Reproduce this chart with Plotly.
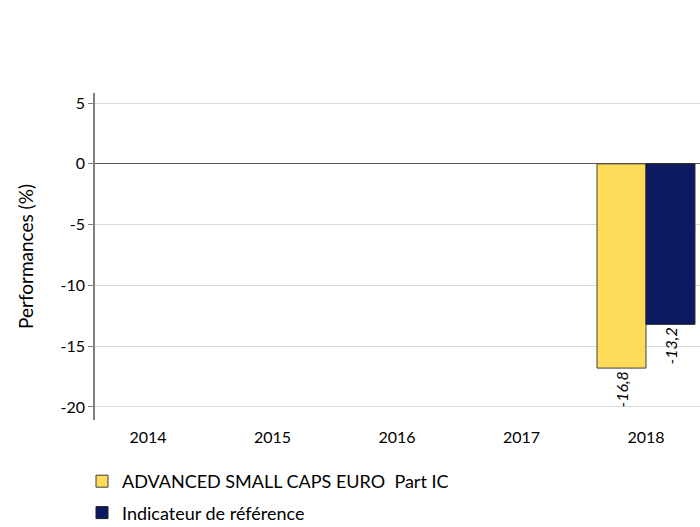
import plotly.graph_objects as go

years = ["2014", "2015", "2016", "2017", "2018"]
fund_name = "ADVANCED SMALL CAPS EURO  Part IC"
bench_name = "Indicateur de référence"
fund_values = [None, None, None, None, -16.8]
bench_values = [None, None, None, None, -13.2]
y_ticks = [5, 0, -5, -10, -15, -20]

FONT = "Lato"

fig = go.Figure()
fig.add_trace(go.Bar(
    x=years, y=fund_values, name=fund_name,
    marker=dict(color="#FFDB5C", line=dict(color="#404040", width=1)),
    texttemplate="%{y:.1f}", textposition="outside", textangle=-90,
    textfont=dict(family=FONT, size=16, color="#000000", style="italic"),
    cliponaxis=False, legendgroup="a", constraintext="none",
))
fig.add_trace(go.Bar(
    x=years, y=bench_values, name=bench_name,
    marker=dict(color="#0C1A63", line=dict(color="#202020", width=1)),
    texttemplate="%{y:.1f}", textposition="outside", textangle=-90,
    textfont=dict(family=FONT, size=16, color="#000000", style="italic"),
    cliponaxis=False, legendgroup="b", constraintext="none",
))

fig.update_layout(
    width=700, height=527,
    margin=dict(l=95, r=0, t=93, b=107, autoexpand=False),
    paper_bgcolor="white", plot_bgcolor="white",
    separators=", ",
    barmode="group", bargap=0.213, bargroupgap=0,
    font=dict(family=FONT, size=16, color="#000000"),
    showlegend=True,
    legend=dict(
        x=(82 - 95) / 605, y=(420 - 463) / 327,
        xanchor="left", yanchor="top",
        font=dict(family=FONT, size=18, color="#000000"),
        tracegroupgap=5, traceorder="grouped",
    ),
    xaxis=dict(
        type="category", range=[-0.426, 4.434], showline=False, showgrid=False,
        ticks="", tickfont=dict(family=FONT, size=16), zeroline=False,
        ticklabelstandoff=6,
    ),
    yaxis=dict(
        range=[-21.07, 5.83], tickvals=y_ticks, ticktext=[str(v) for v in y_ticks],
        showgrid=True, gridcolor="#D9D9D9", gridwidth=1,
        zeroline=True, zerolinecolor="#595959", zerolinewidth=1,
        showline=True, linecolor="#808080", linewidth=1.5,
        ticks="outside", ticklen=5, tickcolor="#808080",
        tickfont=dict(family=FONT, size=16),
        title=dict(text="Performances (%)", font=dict(family=FONT, size=19), standoff=22),
    ),
)

fig.write_html(
    "out.html",
    config={"displayModeBar": False},
    post_script="document.body.style.margin='0';document.body.style.overflow='hidden';",
)
